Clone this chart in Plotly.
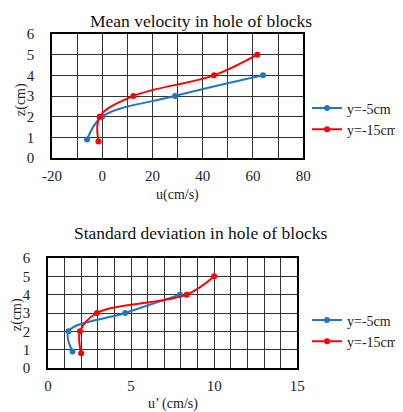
import plotly.graph_objects as go

# Mean velocity
z_mean_a = [0.9, 2, 3, 4]
u_mean_a = [-6, 0, 29, 64]
z_mean_b = [0.8, 2, 3, 4, 5]
u_mean_b = [-1.5, -1, 12.4, 44.5, 61.7]
# Standard deviation
z_std_a = [0.9, 2, 3, 4]
u_std_a = [1.48, 1.24, 4.65, 7.94]
z_std_b = [0.8, 2, 3, 4, 5]
u_std_b = [2.0, 1.93, 2.95, 8.35, 10.0]
series_names = ["y=-5cm", "y=-15cm"]
colors = ["#1f77c4", "#ff0000"]

# tick labels
mean_x_ticks = [-20, 0, 20, 40, 60, 80]
mean_x_labels = ["-20", "0", "20", "40", "60", "80"]
std_x_ticks = [0, 5, 10, 15]
std_x_labels = ["0", "5", "10", "15"]
z_ticks = [0, 1, 2, 3, 4, 5, 6]

FONT = "Liberation Serif"
TXT = "#222"
fig = go.Figure()
for xs, ys, name, c in [(u_mean_a, z_mean_a, series_names[0], colors[0]),
                        (u_mean_b, z_mean_b, series_names[1], colors[1])]:
    fig.add_trace(go.Scatter(x=xs, y=ys, name=name, mode="lines+markers",
                             line=dict(color=c, width=2, shape="spline"),
                             marker=dict(size=6, color=c),
                             xaxis="x", yaxis="y", legend="legend"))
for xs, ys, name, c in [(u_std_a, z_std_a, series_names[0], colors[0]),
                        (u_std_b, z_std_b, series_names[1], colors[1])]:
    fig.add_trace(go.Scatter(x=xs, y=ys, name=name, mode="lines+markers",
                             line=dict(color=c, width=2, shape="spline"),
                             marker=dict(size=6, color=c),
                             xaxis="x2", yaxis="y2", legend="legend2"))

O = 8  # page body margin
W, H = 403 - O, 412 - O
def fx(p):
    return (p - O) / W
def fy(p):
    return 1 - (p - O) / H
def px_x(a, b):
    return [fx(a), fx(b)]
def px_y(top, bot):
    return [fy(bot), fy(top)]

axcommon = dict(showline=True, linecolor="black", linewidth=1.5, mirror=True,
                gridcolor="#333", gridwidth=1, zeroline=False, ticks="",
                automargin=False,
                tickfont=dict(family=FONT, size=15, color=TXT))

def ann(text, x, y, size=14, angle=0, color=TXT):
    return dict(text=text, x=fx(x), y=fy(y), textangle=angle,
                xref="paper", yref="paper", showarrow=False,
                xanchor="center", yanchor="middle",
                font=dict(family=FONT, size=size, color=color))

fig.update_layout(
    width=W, height=H, margin=dict(l=0, r=0, t=0, b=0),
    plot_bgcolor="white", paper_bgcolor="white",
    font=dict(family=FONT, color=TXT),
    xaxis=dict(domain=px_x(52, 304), anchor="y", range=[-20, 80],
               tickvals=mean_x_ticks, ticktext=mean_x_labels, ticklabelstandoff=3,
               minor=dict(dtick=10, showgrid=True, gridcolor="#333", gridwidth=1),
               **axcommon),
    yaxis=dict(domain=px_y(34, 158), anchor="x", range=[0, 6], tickvals=z_ticks,
               ticklabelstandoff=13, **axcommon),
    xaxis2=dict(domain=px_x(48, 298), anchor="y2", range=[0, 15],
                tickvals=std_x_ticks, ticktext=std_x_labels, ticklabelstandoff=3,
                minor=dict(dtick=1, showgrid=True, gridcolor="#333", gridwidth=1),
                **axcommon),
    yaxis2=dict(domain=px_y(258, 368), anchor="x2", range=[0, 6], tickvals=z_ticks,
                ticklabelstandoff=13, **axcommon),
    legend=dict(x=fx(308), y=fy(119), xanchor="left", yanchor="middle",
                font=dict(family=FONT, size=14, color=TXT), tracegroupgap=0,
                itemwidth=30, bgcolor="rgba(0,0,0,0)"),
    legend2=dict(x=fx(308), y=fy(331), xanchor="left", yanchor="middle",
                 font=dict(family=FONT, size=14, color=TXT), tracegroupgap=0,
                 itemwidth=30, bgcolor="rgba(0,0,0,0)"),
    annotations=[
        ann("Mean velocity in hole of blocks", 201, 20.5, 17.5, color="#111"),
        ann("Standard deviation in hole of blocks", 201, 233, 17.5, color="#111"),
        ann("u(cm/s)", 178, 195),
        ann("u’ (cm/s)", 173, 404),
        ann("z(cm)", 21, 99, angle=-90),
        ann("z(cm)", 17, 314, angle=-90),
    ],
)
fig.write_html("out.html")
